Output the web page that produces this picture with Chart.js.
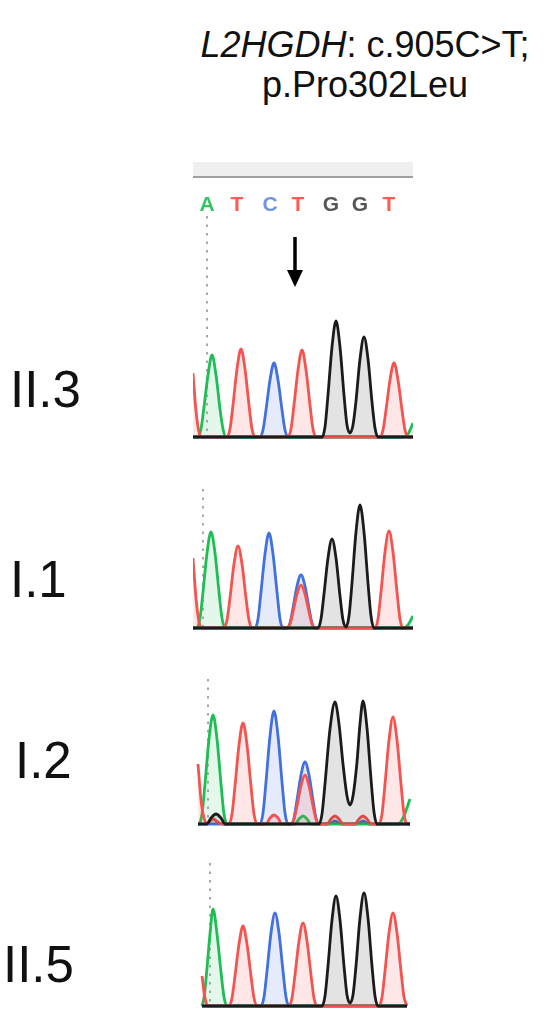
<!DOCTYPE html>
<html><head><meta charset="utf-8">
<script src="https://cdn.jsdelivr.net/npm/chart.js@4.4.1/dist/chart.umd.min.js"></script>
<style>
html,body{margin:0;padding:0;background:#fff;}
body{width:550px;height:1019px;position:relative;overflow:hidden;font-family:"Liberation Sans",Arial,sans-serif;color:#111;}
.t{position:absolute;left:180px;width:370px;top:25px;text-align:center;font-size:36px;line-height:40px;}
.lab{position:absolute;font-size:51px;line-height:51px;white-space:nowrap;}
canvas{position:absolute;}
</style></head><body>
<div class="t"><i>L2HGDH</i>: c.905C&gt;T;<br>p.Pro302Leu</div>
<div class="lab" style="left:10px;top:364px">II.3</div>
<div class="lab" style="left:10px;top:554px">I.1</div>
<div class="lab" style="left:15px;top:735px">I.2</div>
<div class="lab" style="left:3px;top:939px">II.5</div>
<canvas id="hdr" width="220" height="78" style="left:193px;top:155px"></canvas>
<canvas id="p1" width="220" height="232" style="left:193px;top:215px"></canvas>
<canvas id="p2" width="220" height="150" style="left:193px;top:488px"></canvas>
<canvas id="p3" width="220" height="156" style="left:193px;top:678px"></canvas>
<canvas id="p4" width="220" height="154" style="left:193px;top:862px"></canvas>
<script>
// ---- data ----
const bases = ['A','T','C','T','G','G','T'];
const baseCallPos = [14,44,77,105,138,167,196];

// Panel II.3 traces [scan, signal]
const ii3_green = [[0,0],[5,0],[8,8],[11,30],[15,62],[19,82],[23,62],[27,28],[30,8],[33,0],[210,0],[215,3],[220,14]];
const ii3_red = [[0,64],[3,26],[6,5],[9,0],[34,0],[37,8],[40,32],[44,68],[48,88],[52,68],[56,32],[59,8],[62,0],[95,0],[98,8],[101,32],[105,67],[109,87],[113,67],[117,32],[120,8],[123,0],[187,0],[190,7],[193,27],[197,57],[201,74],[205,57],[209,27],[212,7],[215,0],[220,0]];
const ii3_blue = [[0,0],[67,0],[70,7],[73,27],[77,57],[81,74],[85,57],[89,27],[92,7],[95,0],[220,0]];
const ii3_black = [[0,0],[129,0],[132,10],[135,42],[139,90],[143,116],[147,90],[151,42],[154,12],[157,4],[160,12],[163,36],[167,78],[171,100],[175,78],[179,35],[182,9],[185,0],[220,0]];

// Panel I.1
const i1_green = [[0,0],[4,0],[7,10],[10,36],[14,75],[18,96],[22,75],[26,36],[29,10],[32,0],[210,0],[215,3],[220,12]];
const i1_red = [[0,70],[3,30],[6,6],[9,0],[31,0],[34,8],[37,30],[41,64],[45,82],[49,64],[53,30],[56,8],[59,0],[94,0],[97,4],[100,16],[104,34],[108,43],[112,34],[116,16],[119,4],[122,0],[182,0],[185,9],[188,36],[192,76],[196,97],[200,76],[204,36],[207,9],[210,0],[220,0]];
const i1_blue = [[0,0],[62,0],[65,9],[68,36],[72,74],[76,95],[80,74],[84,36],[87,9],[90,0],[94,0],[97,5],[100,20],[104,42],[108,53],[112,42],[116,20],[119,5],[122,0],[220,0]];
const i1_black = [[0,0],[125,0],[128,9],[131,34],[135,70],[139,89],[143,70],[147,32],[150,8],[153,1],[156,12],[159,45],[163,96],[167,123],[171,96],[175,45],[178,12],[181,0],[220,0]];

// Panel I.2
const i2_green = [[5,0],[6,0],[9,10],[12,40],[16,85],[20,109],[24,85],[28,40],[31,10],[34,0],[102,0],[106,5],[110,8],[114,5],[118,0],[205,0],[210,6],[217,25]];
const i2_red = [[5,60],[8,24],[11,6],[14,1],[20,5],[26,1],[30,0],[36,0],[39,10],[42,38],[46,79],[50,101],[54,79],[58,38],[61,10],[64,0],[73,0],[77,6],[81,9],[85,6],[89,0],[98,0],[101,5],[104,18],[108,38],[112,49],[116,38],[120,18],[123,5],[126,0],[134,0],[138,5],[142,8],[146,5],[150,0],[162,0],[166,5],[170,8],[174,5],[178,0],[186,0],[189,10],[192,40],[196,84],[200,107],[204,84],[208,40],[211,10],[214,0],[217,0]];
const i2_blue = [[5,0],[67,0],[70,11],[73,42],[77,88],[81,113],[85,88],[89,42],[92,11],[95,0],[98,0],[101,6],[104,24],[108,49],[112,62],[116,49],[120,24],[123,6],[126,0],[136,0],[142,3],[148,0],[164,0],[170,3],[176,0],[217,0]];
const i2_black = [[5,0],[14,0],[18,6],[23,10],[28,6],[32,0],[126,0],[129,10],[132,40],[137,95],[142,122],[146,100],[150,60],[154,28],[157,19],[160,28],[164,62],[167,100],[170,123],[174,96],[178,45],[181,12],[184,0],[217,0]];

// Panel II.5
const ii5_green = [[9,0],[11,8],[14,38],[17,72],[20,97],[24,72],[28,34],[31,9],[34,0],[214,0]];
const ii5_red = [[9,30],[12,8],[15,0],[36,0],[39,8],[42,30],[46,62],[50,80],[54,62],[58,30],[61,8],[64,0],[96,0],[99,8],[102,31],[106,65],[110,83],[114,65],[118,31],[121,8],[124,0],[186,0],[189,9],[192,35],[196,73],[200,93],[204,73],[208,35],[211,9],[214,0]];
const ii5_blue = [[9,0],[68,0],[71,9],[74,35],[78,73],[82,93],[86,73],[90,35],[93,9],[96,0],[214,0]];
const ii5_black = [[9,0],[129,0],[132,10],[135,40],[139,86],[143,110],[147,86],[151,40],[154,11],[157,3],[160,11],[163,40],[167,88],[171,113],[175,88],[179,40],[182,10],[185,0],[214,0]];

// ---- styles ----
const dye = {
  A:{line:'#1fbe55', fill:'rgba(40,195,90,0.13)'},
  T:{line:'#f4544f', fill:'rgba(245,85,80,0.14)'},
  C:{line:'#4270df', fill:'rgba(70,110,225,0.14)'},
  G:{line:'#1b1b1b', fill:'rgba(0,0,0,0.11)'}
};
const letterColor = {A:'#35c462', T:'#ff5b55', C:'#7294e8', G:'#565656'};

const common = {responsive:false, animation:false, events:[],
  plugins:{legend:{display:false}, tooltip:{enabled:false}, title:{display:false}},
  layout:{padding:0}};

// header: base calls as x-axis tick labels under the grey bar
new Chart(document.getElementById('hdr'), {
  type:'line',
  data:{datasets:[]},
  options:Object.assign({}, common, {
    layout:{padding:{top:7,left:0,right:0,bottom:0}},
    scales:{
      x:{type:'linear', min:0, max:220, position:'bottom',
        grid:{display:false, drawTicks:false},
        border:{display:true, color:'#a0a0a0', width:2},
        afterBuildTicks:(s)=>{ s.ticks = baseCallPos.map(v=>({value:v})); },
        afterFit:(s)=>{ s.height = 56; s.paddingLeft = 0; s.paddingRight = 0; },
        ticks:{autoSkip:false, maxRotation:0, minRotation:0, padding:16,
          font:{family:'"Liberation Sans", Arial, sans-serif', size:21, weight:'bold'},
          color:(c)=>letterColor[bases[c.index]],
          callback:(v,i)=>bases[i]}},
      y:{display:false, min:0, max:1}
    }
  }),
  plugins:[{id:'band', beforeDraw(ch){const a=ch.chartArea,c=ch.ctx;c.save();c.fillStyle='#efefef';c.fillRect(0,a.top,ch.width,a.bottom-a.top);c.restore();}}]
});

function ds(points, key){
  return {data:points.map(p=>({x:p[0],y:p[1]})), borderColor:dye[key].line, backgroundColor:dye[key].fill,
    fill:'origin', borderWidth:2.8, pointRadius:0, cubicInterpolationMode:'monotone', clip:8};
}
const dotPlugin = {id:'dots', beforeDatasetsDraw(ch, args, o){
  const x=ch.scales.x.getPixelForValue(o.x), y0=ch.chartArea.top+1, y1=ch.scales.y.getPixelForValue(0);
  const c=ch.ctx; c.save(); c.strokeStyle='#a8a8a8'; c.lineWidth=2; c.setLineDash([2.5,6]);
  c.beginPath(); c.moveTo(x,y0); c.lineTo(x,y1); c.stroke(); c.restore();
}};
const arrowPlugin = {id:'arrow', afterDatasetsDraw(ch, args, o){
  if(!o.on) return;
  const x=ch.scales.x.getPixelForValue(o.x), yt=ch.scales.y.getPixelForValue(o.top), yb=ch.scales.y.getPixelForValue(o.tip);
  const c=ch.ctx; c.save(); c.strokeStyle='#000'; c.fillStyle='#000'; c.lineWidth=3.5;
  c.beginPath(); c.moveTo(x,yt); c.lineTo(x,yb-12); c.stroke();
  c.beginPath(); c.moveTo(x-8,yb-17); c.lineTo(x+8,yb-17); c.lineTo(x,yb); c.closePath(); c.fill(); c.restore();
}};

function panel(id, tr, yMax, dotX, arrow){
  return new Chart(document.getElementById(id), {
    type:'line',
    data:{datasets:[ds(tr.black,'G'), ds(tr.red,'T'), ds(tr.green,'A'), ds(tr.blue,'C')]},
    options:Object.assign({}, common, {
      plugins:Object.assign({}, common.plugins, {dots:{x:dotX}, arrow:arrow||{on:false}}),
      scales:{x:{type:'linear', min:0, max:220, display:false}, y:{min:-10, max:yMax, display:false}}
    }),
    plugins:[dotPlugin, arrowPlugin]
  });
}
panel('p1', {green:ii3_green, red:ii3_red, blue:ii3_blue, black:ii3_black}, 222, 14, {on:true, x:102, top:200, tip:150});
panel('p2', {green:i1_green, red:i1_red, blue:i1_blue, black:i1_black}, 140, 10);
panel('p3', {green:i2_green, red:i2_red, blue:i2_blue, black:i2_black}, 146, 15);
panel('p4', {green:ii5_green, red:ii5_red, blue:ii5_blue, black:ii5_black}, 144, 17);
</script>
</body></html>
